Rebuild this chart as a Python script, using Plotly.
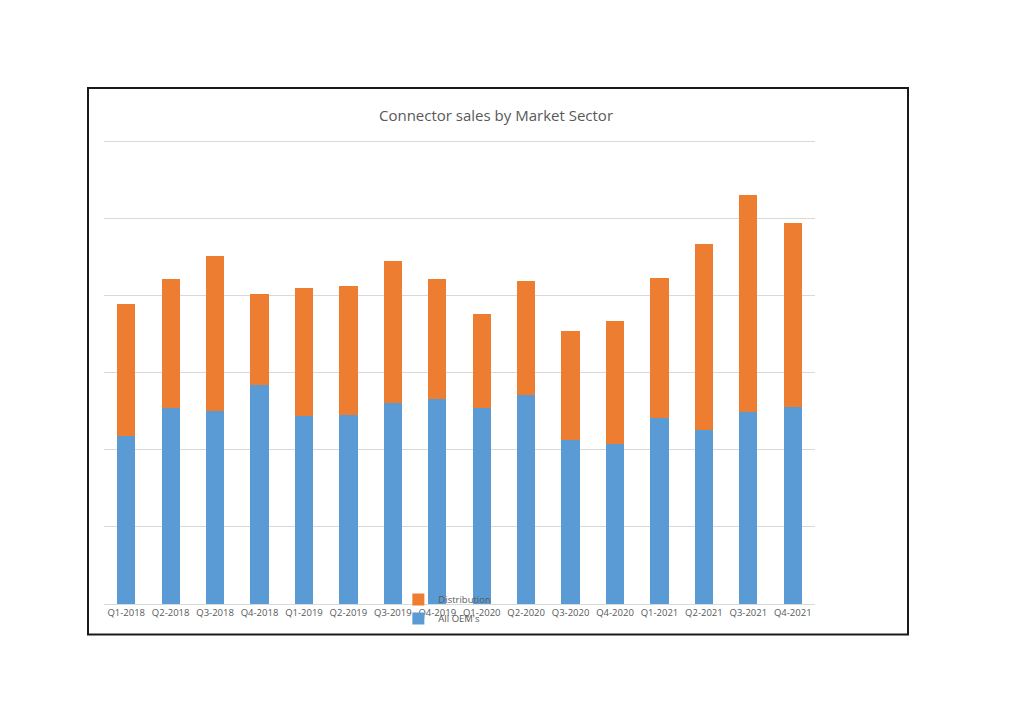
import plotly.graph_objects as go

quarters = ["Q1-2018", "Q2-2018", "Q3-2018", "Q4-2018",
            "Q1-2019", "Q2-2019", "Q3-2019", "Q4-2019",
            "Q1-2020", "Q2-2020", "Q3-2020", "Q4-2020",
            "Q1-2021", "Q2-2021", "Q3-2021", "Q4-2021"]
all_oems = [218.5, 254.9, 250.1, 283.8, 244.1, 244.9, 261.4, 266.1,
            254.5, 271.7, 212.5, 208.2, 241.9, 226.3, 248.8, 255.3]
distribution = [171.6, 167.3, 201.5, 118.5, 166.0, 168.2, 184.1, 156.1,
                122.3, 148.3, 142.2, 158.6, 180.7, 240.9, 281.9, 239.9]

# plot area in figure pixels (page adds an 8px body margin)
YMAX = 605
L, R, B = 96, 807, 596.5
T = B - (B - 134) * YMAX / 600
W, H = R - L, B - T

fig = go.Figure()
fig.add_trace(go.Bar(x=quarters, y=all_oems, name="All OEM's",
                     marker=dict(color="#5B9BD5", line=dict(width=0))))
fig.add_trace(go.Bar(x=quarters, y=distribution, name="Distribution",
                     marker=dict(color="#ED7D31", line=dict(width=0))))

fig.update_layout(
    width=1024, height=724,
    paper_bgcolor="white", plot_bgcolor="white",
    barmode="stack", bargap=0.59,
    margin=dict(l=L, r=1024 - R, t=T, b=724 - B, autoexpand=False),
    font=dict(family="Open Sans, Liberation Sans, sans-serif", color="#595959"),
    title=dict(text="Connector sales by Market Sector", x=488/1024, xanchor="center",
               y=1 - 108/724, yanchor="middle", yref="container",
               font=dict(size=15, color="#595959")),
    xaxis=dict(showgrid=False, showline=True, linecolor="#d9d9d9", linewidth=1,
               ticks="", tickfont=dict(size=9.5, color="#595959"), fixedrange=True),
    yaxis=dict(range=[0, YMAX], tickvals=[100, 200, 300, 400, 500, 600],
               showgrid=True, gridcolor="#d9d9d9",
               gridwidth=1, showticklabels=False, zeroline=False, ticks=""),
    legend=dict(x=0.414, y=(B - 601.5) / H, xanchor="left", yanchor="middle",
                traceorder="reversed", bgcolor="rgba(0,0,0,0)",
                font=dict(size=9.5, color="#595959"), itemwidth=30,
                tracegroupgap=0),
    shapes=[dict(type="rect", xref="paper", yref="paper",
                 x0=(80 - L) / W, x1=(900 - L) / W,
                 y0=(B - 627) / H, y1=(B - 80) / H,
                 line=dict(color="#1a1a1a", width=2), fillcolor="rgba(0,0,0,0)",
                 layer="below")],
)

fig.write_html("out.html")
